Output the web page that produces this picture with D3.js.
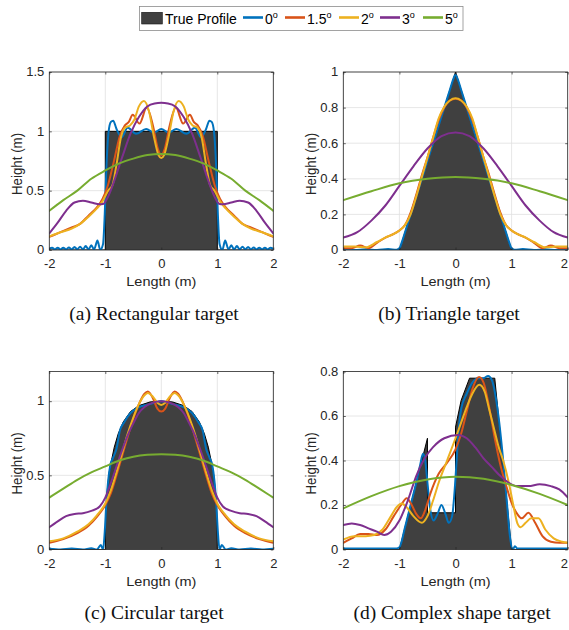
<!DOCTYPE html>
<html>
<head>
<meta charset="utf-8">
<script src="https://cdn.jsdelivr.net/npm/d3@7"></script>
<style>
  body { margin: 0; background: #fff; }
  svg text { font-family: "Liberation Sans", Arial, Helvetica, sans-serif; }
</style>
</head>
<body>
<svg id="fig" width="569" height="630"></svg>
<script>
// ---------- data ----------
const xTicks = [-2, -1, 0, 1, 2];
const yTicksA = [0, 0.5, 1, 1.5];
const yTicksB = [0, 0.2, 0.4, 0.6, 0.8, 1];
const yTicksC = [0, 0.5, 1];
const yTicksD = [0, 0.2, 0.4, 0.6, 0.8];
const angleLabels = ["0", "1.5", "2", "3", "5"];
const captions = ["(a) Rectangular target", "(b) Triangle target", "(c) Circular target", "(d) Complex shape target"];

// (a) rectangular target
const rectTrue = [[-2,0],[-1,0],[-1,1],[1,1],[1,0],[2,0]];
const rectDeg0 = [[-2,0.01],[-1.95,0.02],[-1.9,0.005],[-1.85,0.02],[-1.8,0.005],[-1.75,0.02],[-1.7,0.005],[-1.65,0.022],[-1.6,0.005],[-1.55,0.025],[-1.5,0.005],[-1.45,0.028],[-1.4,0.005],[-1.35,0.033],[-1.3,0.005],[-1.25,0.04],[-1.2,0.005],[-1.14,0.08],[-1.09,0.0],[-1.04,0.05],[-1.01,0.3],[-0.98,0.7],[-0.94,1.0],[-0.9,1.08],[-0.86,1.09],[-0.8,1.02],[-0.71,0.95],[-0.6,1.03],[-0.45,0.98],[-0.27,1.02],[-0.13,0.99],[0,1.02],[0.13,0.99],[0.27,1.02],[0.45,0.98],[0.6,1.03],[0.71,0.95],[0.8,1.02],[0.86,1.09],[0.9,1.08],[0.94,1.0],[0.98,0.7],[1.01,0.3],[1.04,0.05],[1.09,0.0],[1.14,0.08],[1.2,0.005],[1.25,0.04],[1.3,0.005],[1.35,0.033],[1.4,0.005],[1.45,0.028],[1.5,0.005],[1.55,0.025],[1.6,0.005],[1.65,0.022],[1.7,0.005],[1.75,0.02],[1.8,0.005],[1.85,0.02],[1.9,0.005],[1.95,0.02],[2,0.01]];
const rectDeg15 = [[-2,0.11],[-1.8,0.15],[-1.6,0.19],[-1.45,0.22],[-1.3,0.29],[-1.15,0.36],[-1.05,0.43],[-0.95,0.55],[-0.85,0.74],[-0.74,0.96],[-0.65,1.05],[-0.58,1.08],[-0.51,1.14],[-0.39,1.065],[-0.26,1.2],[-0.15,1.05],[-0.06,0.85],[0,0.8],[0.06,0.85],[0.15,1.05],[0.26,1.2],[0.39,1.065],[0.51,1.14],[0.58,1.08],[0.65,1.05],[0.74,0.96],[0.85,0.74],[0.95,0.55],[1.05,0.43],[1.15,0.36],[1.3,0.29],[1.45,0.22],[1.6,0.19],[1.8,0.15],[2,0.11]];
const rectDeg2 = [[-2,0.115],[-1.8,0.15],[-1.6,0.18],[-1.45,0.22],[-1.3,0.28],[-1.15,0.35],[-1.05,0.41],[-0.95,0.5],[-0.87,0.55],[-0.8,0.72],[-0.72,0.95],[-0.65,1.03],[-0.56,1.05],[-0.48,1.1],[-0.4,1.21],[-0.31,1.256],[-0.22,1.17],[-0.13,0.95],[-0.05,0.8],[0,0.775],[0.05,0.8],[0.13,0.95],[0.22,1.17],[0.31,1.256],[0.4,1.21],[0.48,1.1],[0.56,1.05],[0.65,1.03],[0.72,0.95],[0.8,0.72],[0.87,0.55],[0.95,0.5],[1.05,0.41],[1.15,0.35],[1.3,0.28],[1.45,0.22],[1.6,0.18],[1.8,0.15],[2,0.115]];
const rectDeg3 = [[-2,0.14],[-1.85,0.23],[-1.7,0.33],[-1.55,0.4],[-1.4,0.415],[-1.25,0.4],[-1.1,0.385],[-1.03,0.39],[-0.95,0.45],[-0.85,0.57],[-0.7,0.78],[-0.55,0.98],[-0.4,1.12],[-0.25,1.21],[-0.12,1.235],[0,1.24],[0.12,1.235],[0.25,1.21],[0.4,1.12],[0.55,0.98],[0.7,0.78],[0.85,0.57],[0.95,0.45],[1.03,0.39],[1.1,0.385],[1.25,0.4],[1.4,0.415],[1.55,0.4],[1.7,0.33],[1.85,0.23],[2,0.14]];
const rectDeg5 = [[-2,0.33],[-1.75,0.42],[-1.5,0.5],[-1.25,0.6],[-1,0.67],[-0.75,0.73],[-0.5,0.77],[-0.25,0.8],[0,0.81],[0.25,0.8],[0.5,0.77],[0.75,0.73],[1,0.67],[1.25,0.6],[1.5,0.5],[1.75,0.42],[2,0.33]];

// (b) triangle target
const triTrue = [[-2,0],[-1,0],[0,1],[1,0],[2,0]];
const triDeg0 = [[-2,0.003],[-1.8,0.0],[-1.6,0.004],[-1.4,0.0],[-1.2,0.005],[-1.05,0.002],[-1,0.01],[-0.95,0.05],[-0.9,0.1],[-0.5,0.5],[-0.2,0.8],[-0.1,0.9],[-0.04,0.96],[0,0.985],[0.04,0.96],[0.1,0.9],[0.2,0.8],[0.5,0.5],[0.9,0.1],[0.95,0.05],[1,0.01],[1.05,0.002],[1.2,0.005],[1.4,0.0],[1.6,0.004],[1.8,0.0],[2,0.003]];
const triDeg15 = [[-2,0.01],[-1.85,0.01],[-1.7,0.025],[-1.55,0.01],[-1.4,0.04],[-1.25,0.07],[-1.1,0.09],[-1,0.11],[-0.9,0.14],[-0.8,0.21],[-0.7,0.31],[-0.6,0.42],[-0.5,0.52],[-0.4,0.63],[-0.3,0.73],[-0.2,0.8],[-0.1,0.84],[0,0.85],[0.1,0.84],[0.2,0.8],[0.3,0.73],[0.4,0.63],[0.5,0.52],[0.6,0.42],[0.7,0.31],[0.8,0.21],[0.9,0.14],[1,0.11],[1.1,0.09],[1.25,0.07],[1.4,0.04],[1.55,0.01],[1.7,0.025],[1.85,0.01],[2,0.01]];
const triDeg2 = [[-2,0.02],[-1.8,0.02],[-1.6,0.015],[-1.4,0.045],[-1.25,0.07],[-1.1,0.09],[-1,0.11],[-0.9,0.14],[-0.8,0.2],[-0.7,0.3],[-0.6,0.41],[-0.5,0.52],[-0.4,0.63],[-0.3,0.74],[-0.2,0.805],[-0.1,0.84],[0,0.852],[0.1,0.84],[0.2,0.805],[0.3,0.74],[0.4,0.63],[0.5,0.52],[0.6,0.41],[0.7,0.3],[0.8,0.2],[0.9,0.14],[1,0.11],[1.1,0.09],[1.25,0.07],[1.4,0.045],[1.6,0.015],[1.8,0.02],[2,0.02]];
const triDeg3 = [[-2,0.07],[-1.75,0.1],[-1.5,0.165],[-1.25,0.25],[-1,0.36],[-0.75,0.47],[-0.5,0.57],[-0.25,0.64],[0,0.66],[0.25,0.64],[0.5,0.57],[0.75,0.47],[1,0.36],[1.25,0.25],[1.5,0.165],[1.75,0.1],[2,0.07]];
const triDeg5 = [[-2,0.28],[-1.5,0.33],[-1,0.375],[-0.5,0.4],[0,0.41],[0.5,0.4],[1,0.375],[1.5,0.33],[2,0.28]];

// (c) circular target
const circTrue = [[-2,0],[-1,0],[-0.995,0.2],[-0.985,0.3],[-0.96,0.42],[-0.93,0.52],[-0.89,0.6],[-0.84,0.69],[-0.77,0.78],[-0.68,0.86],[-0.55,0.93],[-0.4,0.97],[-0.2,0.995],[0,1],[0.2,0.995],[0.4,0.97],[0.55,0.93],[0.68,0.86],[0.77,0.78],[0.84,0.69],[0.89,0.6],[0.93,0.52],[0.96,0.42],[0.985,0.3],[0.995,0.2],[1,0],[2,0]];
const circDeg0 = [[-2,0.005],[-1.8,0.0],[-1.6,0.006],[-1.4,0.0],[-1.25,0.008],[-1.15,0.0],[-1.08,0.03],[-1.04,0.0],[-1.01,0.12],[-0.98,0.32],[-0.95,0.46],[-0.91,0.57],[-0.86,0.62],[-0.8,0.68],[-0.74,0.8],[-0.66,0.86],[-0.55,0.92],[-0.4,0.96],[-0.2,0.98],[0,1.0],[0.2,0.98],[0.4,0.96],[0.55,0.92],[0.66,0.86],[0.74,0.8],[0.8,0.68],[0.86,0.62],[0.91,0.57],[0.95,0.46],[0.98,0.32],[1.01,0.12],[1.04,0.0],[1.08,0.03],[1.15,0.0],[1.25,0.008],[1.4,0.0],[1.6,0.006],[1.8,0.0],[2,0.005]];
const circDeg15 = [[-2,0.045],[-1.75,0.07],[-1.5,0.11],[-1.3,0.16],[-1.15,0.22],[-1,0.3],[-0.9,0.38],[-0.8,0.5],[-0.7,0.63],[-0.6,0.76],[-0.5,0.88],[-0.4,0.98],[-0.3,1.05],[-0.24,1.065],[-0.15,1.02],[-0.07,0.95],[0,0.93],[0.07,0.95],[0.15,1.02],[0.24,1.065],[0.3,1.05],[0.4,0.98],[0.5,0.88],[0.6,0.76],[0.7,0.63],[0.8,0.5],[0.9,0.38],[1,0.3],[1.15,0.22],[1.3,0.16],[1.5,0.11],[1.75,0.07],[2,0.045]];
const circDeg2 = [[-2,0.055],[-1.75,0.075],[-1.5,0.12],[-1.3,0.17],[-1.15,0.23],[-1,0.31],[-0.9,0.4],[-0.8,0.52],[-0.7,0.65],[-0.6,0.78],[-0.5,0.89],[-0.4,0.98],[-0.3,1.04],[-0.24,1.055],[-0.15,1.03],[-0.07,0.99],[0,0.975],[0.07,0.99],[0.15,1.03],[0.24,1.055],[0.3,1.04],[0.4,0.98],[0.5,0.89],[0.6,0.78],[0.7,0.65],[0.8,0.52],[0.9,0.4],[1,0.31],[1.15,0.23],[1.3,0.17],[1.5,0.12],[1.75,0.075],[2,0.055]];
const circDeg3 = [[-2,0.15],[-1.85,0.19],[-1.7,0.225],[-1.55,0.24],[-1.4,0.245],[-1.25,0.26],[-1.1,0.29],[-1,0.35],[-0.9,0.45],[-0.8,0.56],[-0.7,0.67],[-0.6,0.77],[-0.5,0.85],[-0.4,0.92],[-0.3,0.96],[-0.15,0.99],[0,1.0],[0.15,0.99],[0.3,0.96],[0.4,0.92],[0.5,0.85],[0.6,0.77],[0.7,0.67],[0.8,0.56],[0.9,0.45],[1,0.35],[1.1,0.29],[1.25,0.26],[1.4,0.245],[1.55,0.24],[1.7,0.225],[1.85,0.19],[2,0.15]];
const circDeg5 = [[-2,0.35],[-1.75,0.41],[-1.5,0.47],[-1.25,0.52],[-1,0.56],[-0.75,0.6],[-0.5,0.625],[-0.25,0.638],[0,0.642],[0.25,0.638],[0.5,0.625],[0.75,0.6],[1,0.56],[1.25,0.52],[1.5,0.47],[1.75,0.41],[2,0.35]];

// (d) complex shape target
const cplxTrue = [[-2,0],[-1,0],[-0.5,0.5],[-0.5,0.165],[0,0.165],[0,0.55],[0.1,0.67],[0.25,0.77],[0.7,0.77],[1,0],[2,0]];
const cplxDeg0 = [[-2,0.005],[-1.5,0.005],[-1.05,0.005],[-1,0.01],[-0.9,0.1],[-0.8,0.2],[-0.7,0.3],[-0.63,0.38],[-0.58,0.43],[-0.54,0.4],[-0.5,0.3],[-0.45,0.18],[-0.39,0.13],[-0.32,0.16],[-0.25,0.2],[-0.18,0.16],[-0.12,0.12],[-0.06,0.15],[-0.02,0.25],[0.02,0.4],[0.06,0.55],[0.1,0.63],[0.2,0.7],[0.3,0.75],[0.4,0.77],[0.5,0.77],[0.58,0.78],[0.65,0.76],[0.72,0.68],[0.78,0.57],[0.85,0.4],[0.92,0.2],[0.97,0.06],[1.02,0.0],[1.06,0.015],[1.1,0.005],[1.5,0.005],[2,0.005]];
const cplxDeg15 = [[-2,0.03],[-1.85,0.05],[-1.7,0.07],[-1.55,0.07],[-1.4,0.065],[-1.25,0.09],[-1.1,0.15],[-0.97,0.2],[-0.87,0.23],[-0.78,0.2],[-0.7,0.16],[-0.62,0.14],[-0.55,0.17],[-0.45,0.25],[-0.3,0.34],[-0.15,0.39],[0,0.45],[0.1,0.52],[0.2,0.62],[0.3,0.72],[0.42,0.775],[0.5,0.75],[0.6,0.64],[0.7,0.5],[0.8,0.38],[0.9,0.29],[1,0.21],[1.1,0.16],[1.18,0.14],[1.3,0.165],[1.42,0.12],[1.55,0.06],[1.7,0.035],[1.85,0.03],[2,0.03]];
const cplxDeg2 = [[-2,0.045],[-1.8,0.06],[-1.6,0.06],[-1.45,0.065],[-1.3,0.09],[-1.15,0.15],[-1.05,0.19],[-0.96,0.207],[-0.87,0.19],[-0.75,0.15],[-0.6,0.12],[-0.5,0.15],[-0.4,0.22],[-0.3,0.3],[-0.15,0.4],[0,0.5],[0.1,0.57],[0.2,0.64],[0.3,0.7],[0.425,0.74],[0.52,0.71],[0.6,0.63],[0.68,0.55],[0.77,0.46],[0.85,0.4],[0.95,0.3],[1.03,0.2],[1.1,0.12],[1.16,0.1],[1.25,0.12],[1.35,0.14],[1.48,0.14],[1.6,0.09],[1.75,0.05],[1.9,0.035],[2,0.03]];
const cplxDeg3 = [[-2,0.11],[-1.85,0.117],[-1.7,0.11],[-1.55,0.095],[-1.4,0.08],[-1.27,0.065],[-1.15,0.08],[-1,0.13],[-0.85,0.22],[-0.7,0.33],[-0.55,0.41],[-0.4,0.46],[-0.2,0.5],[0.05,0.515],[0.2,0.5],[0.35,0.46],[0.5,0.41],[0.65,0.37],[0.8,0.33],[0.95,0.3],[1.1,0.285],[1.3,0.285],[1.5,0.293],[1.7,0.285],[1.85,0.27],[2,0.234]];
const cplxDeg5 = [[-2,0.185],[-1.5,0.24],[-1,0.285],[-0.5,0.315],[0,0.327],[0.5,0.318],[1,0.29],[1.5,0.25],[2,0.2]];

// ---------- styling / layout ----------
const seriesColors = ["#0072BD", "#D95319", "#EDB120", "#7E2F8E", "#77AC30"];
const fillColor = "#404040";
const axisColor = "#262626";
const gridColor = "#dfdfdf";
const figWidth = 569;

const panels = [
  { box: [49.3, 273.3, 72, 250], yMax: 1.5, yTicks: yTicksA, truth: rectTrue,
    series: [rectDeg0, rectDeg15, rectDeg2, rectDeg3, rectDeg5], caption: captions[0], cap: [154, 320] },
  { box: [343.3, 567.7, 72, 250], yMax: 1, yTicks: yTicksB, truth: triTrue,
    series: [triDeg0, triDeg15, triDeg2, triDeg3, triDeg5], caption: captions[1], cap: [449, 320] },
  { box: [49.3, 273.3, 371.5, 549.5], yMax: 1.2, yTicks: yTicksC, truth: circTrue,
    series: [circDeg0, circDeg15, circDeg2, circDeg3, circDeg5], caption: captions[2], cap: [154, 619] },
  { box: [343.3, 567.7, 371.5, 549.5], yMax: 0.8, yTicks: yTicksD, truth: cplxTrue,
    series: [cplxDeg0, cplxDeg15, cplxDeg2, cplxDeg3, cplxDeg5], caption: captions[3], cap: [452, 619] }
];

const svg = d3.select("#fig");
const fmt = v => String(v);
const textSquash = 0.92;

panels.forEach((p, i) => {
  const [L, R, T, B] = p.box;
  const x = d3.scaleLinear().domain([-2, 2]).range([L, R]);
  const y = d3.scaleLinear().domain([0, p.yMax]).range([B, T]);
  const g = svg.append("g");

  const clipId = "clip" + i;
  svg.append("clipPath").attr("id", clipId)
    .append("rect").attr("x", L).attr("y", T - 2).attr("width", R - L).attr("height", B - T + 2);

  // grid
  g.append("g").selectAll("line").data(xTicks).join("line")
    .attr("x1", d => x(d)).attr("x2", d => x(d)).attr("y1", T).attr("y2", B)
    .attr("stroke", gridColor).attr("stroke-width", 0.8);
  g.append("g").selectAll("line").data(p.yTicks).join("line")
    .attr("x1", L).attr("x2", R).attr("y1", d => y(d)).attr("y2", d => y(d))
    .attr("stroke", gridColor).attr("stroke-width", 0.8);

  const plot = g.append("g").attr("clip-path", `url(#${clipId})`);

  // true profile
  const area = d3.area().x(d => x(d[0])).y0(y(0)).y1(d => y(d[1])).curve(d3.curveLinear);
  const edge = d3.line().x(d => x(d[0])).y(d => y(d[1])).curve(d3.curveLinear);
  plot.append("path").datum(p.truth).attr("d", area).attr("fill", fillColor);
  plot.append("path").datum(p.truth).attr("d", edge).attr("fill", "none")
    .attr("stroke", "#000").attr("stroke-width", 1);

  // estimated profiles
  const line = d3.line().x(d => x(d[0])).y(d => y(d[1])).curve(d3.curveMonotoneX);
  p.series.forEach((s, k) => {
    plot.append("path").datum(s).attr("d", line).attr("fill", "none")
      .attr("stroke", seriesColors[k]).attr("stroke-width", 2)
      .attr("stroke-linejoin", "round").attr("stroke-linecap", "round");
  });

  // axes
  const styleAxis = sel => {
    sel.select(".domain").remove();
    sel.selectAll(".tick line").attr("stroke", axisColor).attr("stroke-width", 0.7);
    sel.selectAll(".tick text").attr("fill", axisColor).attr("font-size", 13);
  };
  const bottom = g.append("g").attr("transform", `translate(0,${B})`)
    .call(d3.axisBottom(x).tickValues(xTicks).tickFormat(fmt).tickSizeInner(-2.5).tickSizeOuter(0).tickPadding(10.5))
    .call(styleAxis);
  bottom.selectAll(".tick text").attr("transform", `scale(1,${textSquash})`);
  // keep the last label inside the figure when the axis ends at the page edge
  bottom.selectAll(".tick text").each(function (d) {
    const bb = this.getBBox();
    const overflow = x(d) + bb.x + bb.width - (figWidth - 1.5);
    if (overflow > 0) d3.select(this).attr("dx", -overflow);
  });
  const left = g.append("g").attr("transform", `translate(${L},0)`)
    .call(d3.axisLeft(y).tickValues(p.yTicks).tickFormat(fmt).tickSizeInner(-2.5).tickSizeOuter(0).tickPadding(5))
    .call(styleAxis);
  left.selectAll(".tick text").attr("transform", `scale(1,${textSquash})`);
  g.append("g").attr("transform", `translate(0,${T})`)
    .call(d3.axisTop(x).tickValues(xTicks).tickFormat("").tickSizeInner(-2.5).tickSizeOuter(0))
    .call(styleAxis);
  g.append("g").attr("transform", `translate(${R},0)`)
    .call(d3.axisRight(y).tickValues(p.yTicks).tickFormat("").tickSizeInner(-2.5).tickSizeOuter(0))
    .call(styleAxis);

  // frame
  g.append("rect").attr("x", L).attr("y", T).attr("width", R - L).attr("height", B - T)
    .attr("fill", "none").attr("stroke", axisColor).attr("stroke-width", 0.8);

  // axis titles
  g.append("text")
    .attr("transform", `translate(${(L + R) / 2},${B + 36}) scale(1,${textSquash})`)
    .attr("text-anchor", "middle").attr("font-size", 14.5).attr("fill", axisColor)
    .text("Length (m)");
  g.append("text")
    .attr("transform", `translate(${L - 27},${(T + B) / 2 + 3}) rotate(-90) scale(${textSquash},1)`)
    .attr("text-anchor", "middle").attr("font-size", 14.5).attr("fill", axisColor)
    .text("Height (m)");

  // caption
  g.append("text")
    .attr("transform", `translate(${p.cap[0]},${p.cap[1]}) scale(1,${textSquash})`)
    .attr("text-anchor", "middle")
    .style("font-family", '"Liberation Serif", "Times New Roman", Times, serif')
    .attr("font-size", 19.5).attr("fill", "#111")
    .text(p.caption);
});

// ---------- legend ----------
const legend = svg.append("g");
legend.append("rect").attr("x", 139.5).attr("y", 6.5).attr("width", 323.5).attr("height", 24)
  .attr("fill", "#fff").attr("stroke", "#8c8c8c").attr("stroke-width", 0.8);
legend.append("rect").attr("x", 141.7).attr("y", 12.3).attr("width", 20.6).attr("height", 11.7)
  .attr("fill", fillColor).attr("stroke", "#111").attr("stroke-width", 0.6);
legend.append("text").attr("x", 165).attr("y", 24).attr("font-size", 14).attr("fill", "#000")
  .text("True Profile");
const legendStarts = [243, 285, 339, 380, 423];
angleLabels.forEach((lab, k) => {
  const x0 = legendStarts[k];
  legend.append("line").attr("x1", x0).attr("x2", x0 + 20).attr("y1", 17.5).attr("y2", 17.5)
    .attr("stroke", seriesColors[k]).attr("stroke-width", 2.6);
  const t = legend.append("text").attr("x", x0 + 22).attr("y", 24).attr("font-size", 14).attr("fill", "#000");
  t.append("tspan").text(lab);
  t.append("tspan").attr("font-size", 9).attr("dy", -6.5).text("o");
});
</script>
</body>
</html>
